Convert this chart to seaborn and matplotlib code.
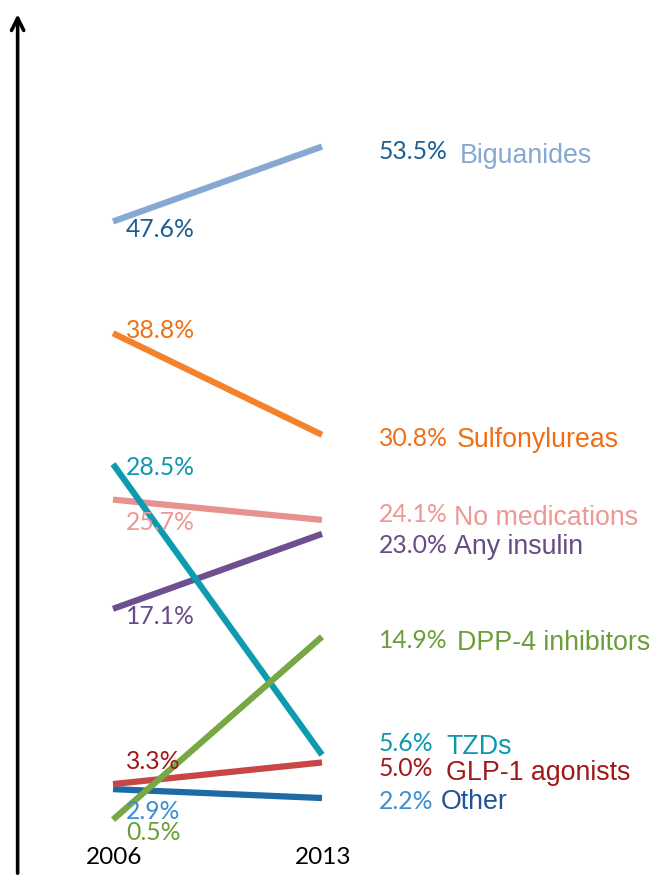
import pandas as pd
import matplotlib.pyplot as plt
import seaborn as sns

sns.set_style("white")

# data (percent of patients, 2006 vs 2013)
years = [2006, 2013]
drugs = ['Biguanides', 'Sulfonylureas', 'No medications', 'Any insulin',
         'Other', 'GLP-1 agonists', 'TZDs', 'DPP-4 inhibitors']
pct_2006 = [47.6, 38.8, 25.7, 17.1, 2.9, 3.3, 28.5, 0.5]
pct_2013 = [53.5, 30.8, 24.1, 23.0, 2.2, 5.0, 5.6, 14.9]

rows = []
for d, a, b in zip(drugs, pct_2006, pct_2013):
    rows.append({'drug': d, 'year': years[0], 'pct': a})
    rows.append({'drug': d, 'year': years[1], 'pct': b})
df = pd.DataFrame(rows)

line_col = {'Biguanides': '#86a8d2', 'Sulfonylureas': '#f5822a',
            'No medications': '#e8928f', 'Any insulin': '#6e4f8f',
            'Other': '#1d6aa5', 'GLP-1 agonists': '#c84646',
            'TZDs': '#0e9bb0', 'DPP-4 inhibitors': '#78a844'}
# colour of the value labels, colour of the name labels
val_col = {'Biguanides': '#1c5e92', 'Sulfonylureas': '#f06f14',
           'No medications': '#ec9895', 'Any insulin': '#674b86',
           'Other': '#3b8ed0', 'GLP-1 agonists': '#a01818',
           'TZDs': '#0e97ad', 'DPP-4 inhibitors': '#6b9d38'}
name_col = {'Biguanides': '#86a8d2', 'Sulfonylureas': '#f06f14',
            'No medications': '#ec9895', 'Any insulin': '#674b86',
            'Other': '#1f5592', 'GLP-1 agonists': '#a01818',
            'TZDs': '#0e97ad', 'DPP-4 inhibitors': '#6b9d38'}

# label nudges in pixels (dy for left value, dy for right value, x of name, dy of name)
left_dy = {'Biguanides': -8, 'Sulfonylureas': 3, 'No medications': -23,
           'Any insulin': -8, 'Other': -22, 'GLP-1 agonists': 23,
           'TZDs': -3, 'DPP-4 inhibitors': -13}
right_dy = {'Biguanides': -5, 'Sulfonylureas': -4, 'No medications': 5,
            'Any insulin': -12, 'Other': -3, 'GLP-1 agonists': -6,
            'TZDs': 11, 'DPP-4 inhibitors': -4}
name_x = {'Biguanides': 460, 'Sulfonylureas': 457, 'No medications': 454,
          'Any insulin': 454, 'Other': 441, 'GLP-1 agonists': 446,
          'TZDs': 446, 'DPP-4 inhibitors': 457}
name_dy = {'Biguanides': -9, 'Sulfonylureas': -5, 'No medications': 2,
           'Any insulin': -13, 'Other': -4, 'GLP-1 agonists': -11,
           'TZDs': 8, 'DPP-4 inhibitors': -6}

num_font = 'Lato'
name_font = 'Liberation Sans'

fig = plt.figure(figsize=(6.53, 8.76), dpi=100)
ax = fig.add_axes([0, 0, 1, 1])

for d in drugs:
    sns.lineplot(data=df[df['drug'] == d], x='year', y='pct', color=line_col[d],
                 linewidth=4.5, ax=ax, legend=False, solid_capstyle='butt')

ax.set_xlim(2002.215, 2024.086)
ax.set_ylim(-3.94, 65.04)
ax.axis('off')

for d, a, b in zip(drugs, pct_2006, pct_2013):
    ax.annotate(f'{a:.1f}%', (years[0], a), xytext=(13, left_dy[d]),
                textcoords='offset pixels', ha='left', va='center',
                fontsize=17.8, family=num_font, color=val_col[d])
    ax.annotate(f'{b:.1f}%', (years[1], b), xytext=(57, right_dy[d]),
                textcoords='offset pixels', ha='left', va='center',
                fontsize=17.8, family=num_font, color=val_col[d])
    ax.annotate(d, (years[1], b), xytext=(name_x[d] - 322, name_dy[d]),
                textcoords='offset pixels', ha='left', va='center',
                fontsize=19.3, family=name_font, color=name_col[d])

for yr in years:
    ax.annotate(str(yr), (yr, 0), xytext=(1, -32), textcoords='offset pixels',
                ha='center', va='center', fontsize=17.5, family=num_font,
                color='black')

# vertical axis arrow
ax.annotate('', xy=(0.027, 0.987), xytext=(0.027, 0.0), xycoords='axes fraction',
            arrowprops=dict(arrowstyle='->', lw=2.6, color='black',
                            mutation_scale=22))

fig.savefig('out.png', dpi=100)
